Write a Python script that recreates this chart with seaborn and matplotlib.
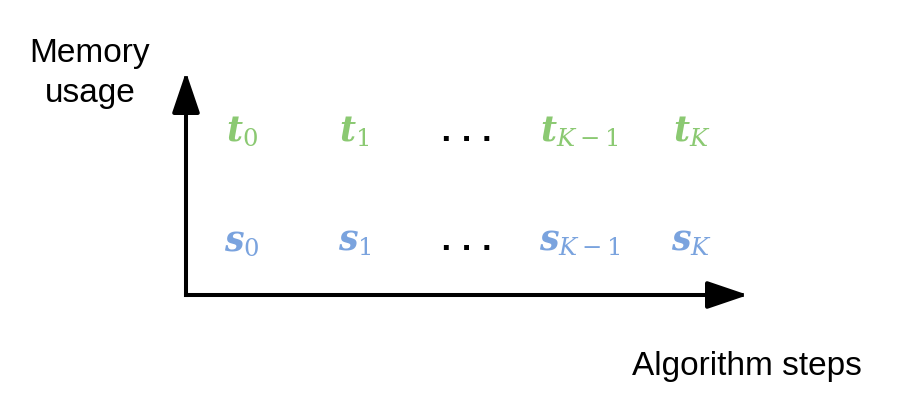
import matplotlib
matplotlib.use("Agg")
import matplotlib.pyplot as plt
import seaborn as sns

# sequence of stored quantities per algorithm step
step_subscripts = ["0", "1", None, "K-1", "K"]   # None -> ellipsis column
row_symbols = ["s", "t"]                          # bottom row, top row
row_colors = ["#7AA3DE", "#8BC972"]
y_label = "Memory\nusage"
x_label = "Algorithm steps"

sns.set_theme(style="white")
plt.rcParams["font.family"] = ["Liberation Sans", "DejaVu Sans"]
plt.rcParams["mathtext.fontset"] = "custom"
plt.rcParams["mathtext.rm"] = "DejaVu Serif"
plt.rcParams["mathtext.it"] = "DejaVu Serif:italic"
plt.rcParams["mathtext.bf"] = "DejaVu Serif:bold:italic"
plt.rcParams["text.color"] = "black"

fig = plt.figure(figsize=(9.1, 4.15), dpi=100)
# axes box spans the two arrows
ax = fig.add_axes([186 / 910, 1 - 295 / 415, 562 / 910, 223 / 415])
ax.set_xlim(-0.5, len(step_subscripts) - 0.5)
ax.set_ylim(-0.408, 1.633)
ax.set_axis_off()

for r, (sym, col) in enumerate(zip(row_symbols, row_colors)):
    for i, sub in enumerate(step_subscripts):
        if sub is None:
            ax.text(i, r, ". . .", ha="center", va="baseline",
                    fontsize=20, color="black", fontweight="bold",
                    family="DejaVu Sans")
        else:
            ax.text(i, r, r"$\mathbf{%s}_{%s}$" % (sym, sub.replace("-", "\u2212")),
                    ha="center", va="baseline", fontsize=25, color=col)

arrow = dict(arrowstyle="-|>,head_length=2.5,head_width=0.85",
             mutation_scale=10, lw=2.9, color="black",
             shrinkA=0, shrinkB=0, capstyle="projecting")
ax.annotate("", xy=(0, 1), xytext=(0, 0), xycoords="axes fraction",
            arrowprops=arrow, annotation_clip=False)
ax.annotate("", xy=(1, 0), xytext=(0, 0), xycoords="axes fraction",
            arrowprops=arrow, annotation_clip=False)

for k, line in enumerate(y_label.split("\n")):
    fig.text(90 / 910, 1 - (62 + 40 * k) / 415, line, ha="center",
             va="baseline", fontsize=24)
fig.text(747 / 910, 1 - 375 / 415, x_label, ha="center", va="baseline",
         fontsize=24)

fig.savefig("out.png", dpi=100)
